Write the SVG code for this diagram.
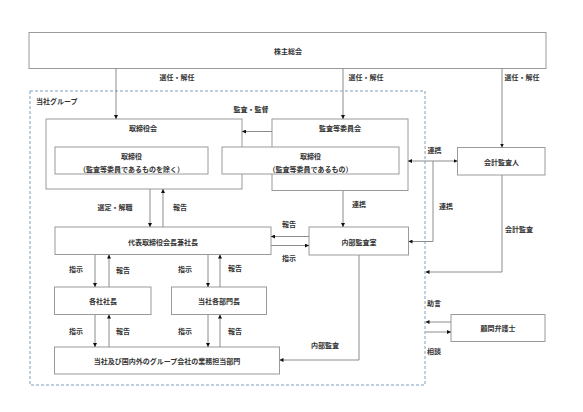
<svg xmlns="http://www.w3.org/2000/svg" width="583" height="412" viewBox="0 0 583 412">
<defs>
<style>
.bx{fill:#fff;stroke:#9a9a9a;stroke-width:1}
.ln{fill:none;stroke:#8c8c8c;stroke-width:1}
.t{font-family:"Noto Sans CJK JP","Noto Sans CJK SC",sans-serif;font-size:7px;font-weight:bold;fill:#333;text-anchor:middle;dominant-baseline:central}
.ts{text-anchor:start}
.grp{fill:none;stroke:#7f9fbf;stroke-width:1;stroke-dasharray:3 2}
</style>
<marker id="ah" viewBox="0 0 6 6" refX="6" refY="3" markerWidth="4" markerHeight="4" markerUnits="userSpaceOnUse" orient="auto">
<path d="M0,0 L6,3 L0,6 Z" fill="#111"/>
</marker>
</defs>
<rect width="583" height="412" fill="#fff"/>

<rect class="grp" x="30" y="91" width="395" height="294"/>
<text class="t ts" x="36" y="101">当社グループ</text>

<g id="shareholders">
<rect class="bx" x="29" y="32.5" width="517" height="36"/>
<text class="t" x="288" y="51">株主総会</text>
</g>

<g id="board">
<rect class="bx" x="46" y="119" width="196" height="70"/>
<text class="t" x="143" y="128">取締役会</text>
</g>
<g id="directors">
<rect class="bx" x="55" y="147" width="153" height="27"/>
<text class="t" x="131.5" y="156">取締役</text>
<text class="t" x="131.5" y="168.5">（監査等委員であるものを除く）</text>
</g>
<g id="audit-committee">
<rect class="bx" x="272" y="119" width="136" height="71.5"/>
<text class="t" x="340" y="128">監査等委員会</text>
</g>
<g id="audit-directors">
<rect class="bx" x="222" y="147" width="177" height="27"/>
<text class="t" x="310.5" y="156">取締役</text>
<text class="t" x="310.5" y="168.5">（監査等委員であるもの）</text>
</g>
<g id="accounting-auditor">
<rect class="bx" x="457.5" y="147.5" width="87.5" height="27.5"/>
<text class="t" x="501.5" y="161.5">会計監査人</text>
</g>
<g id="president">
<rect class="bx" x="55" y="227" width="216" height="27.5"/>
<text class="t" x="163" y="241.5">代表取締役会長兼社長</text>
</g>
<g id="internal-audit">
<rect class="bx" x="309" y="227" width="99.5" height="28"/>
<text class="t" x="359" y="241.5">内部監査室</text>
</g>
<g id="company-presidents">
<rect class="bx" x="54.5" y="287" width="96.5" height="27.5"/>
<text class="t" x="103" y="301">各社社長</text>
</g>
<g id="department-heads">
<rect class="bx" x="171.5" y="287" width="95" height="27.5"/>
<text class="t" x="219" y="301">当社各部門長</text>
</g>
<g id="business-divisions">
<rect class="bx" x="54.5" y="347" width="225" height="27"/>
<text class="t" x="167" y="360.5">当社及び国内外のグループ会社の業務担当部門</text>
</g>
<g id="legal-advisor">
<rect class="bx" x="451" y="314.5" width="94" height="27"/>
<text class="t" x="498" y="328">顧問弁護士</text>
</g>

<g id="connectors">
<line class="ln" x1="116" y1="68.5" x2="116" y2="119" marker-end="url(#ah)"/>
<line class="ln" x1="343" y1="68.5" x2="343" y2="119" marker-end="url(#ah)"/>
<line class="ln" x1="502" y1="68.5" x2="502" y2="147.5" marker-end="url(#ah)"/>
<line class="ln" x1="272" y1="131.5" x2="242" y2="131.5" marker-end="url(#ah)"/>
<line class="ln" x1="433" y1="161" x2="408" y2="161" marker-end="url(#ah)"/>
<line class="ln" x1="433" y1="161" x2="457.5" y2="161" marker-end="url(#ah)"/>
<polyline class="ln" points="433,161 433,241.5 408.5,241.5" marker-end="url(#ah)"/>
<polyline class="ln" points="502,175 502,272 425.5,272" marker-end="url(#ah)"/>
<line class="ln" x1="150" y1="189" x2="150" y2="227" marker-end="url(#ah)"/>
<line class="ln" x1="163" y1="227" x2="163" y2="189" marker-end="url(#ah)"/>
<line class="ln" x1="343" y1="190.5" x2="343" y2="227" marker-end="url(#ah)"/>
<line class="ln" x1="309" y1="236.5" x2="271" y2="236.5" marker-end="url(#ah)"/>
<line class="ln" x1="271" y1="245.5" x2="309" y2="245.5" marker-end="url(#ah)"/>
<line class="ln" x1="95" y1="254.5" x2="95" y2="287" marker-end="url(#ah)"/>
<line class="ln" x1="109" y1="287" x2="109" y2="254.5" marker-end="url(#ah)"/>
<line class="ln" x1="208" y1="254.5" x2="208" y2="287" marker-end="url(#ah)"/>
<line class="ln" x1="220" y1="287" x2="220" y2="254.5" marker-end="url(#ah)"/>
<line class="ln" x1="95" y1="314.5" x2="95" y2="347" marker-end="url(#ah)"/>
<line class="ln" x1="109" y1="347" x2="109" y2="314.5" marker-end="url(#ah)"/>
<line class="ln" x1="208" y1="314.5" x2="208" y2="347" marker-end="url(#ah)"/>
<line class="ln" x1="220" y1="347" x2="220" y2="314.5" marker-end="url(#ah)"/>
<polyline class="ln" points="359,255 359,360 279.5,360" marker-end="url(#ah)"/>
<line class="ln" x1="451" y1="322" x2="425.5" y2="322" marker-end="url(#ah)"/>
<line class="ln" x1="425.5" y1="332" x2="451" y2="332" marker-end="url(#ah)"/>
</g>

<g id="labels">
<text class="t" x="177" y="77">選任・解任</text>
<text class="t" x="366" y="77">選任・解任</text>
<text class="t" x="522" y="77">選任・解任</text>
<text class="t" x="251" y="109">監査・監督</text>
<text class="t" x="434.5" y="150">連携</text>
<text class="t" x="446" y="206">連携</text>
<text class="t" x="519" y="229">会計監査</text>
<text class="t" x="115" y="207">選定・解職</text>
<text class="t" x="180" y="207">報告</text>
<text class="t" x="359" y="204">連携</text>
<text class="t" x="289" y="224">報告</text>
<text class="t" x="289" y="258">指示</text>
<text class="t" x="76" y="269">指示</text>
<text class="t" x="123" y="270">報告</text>
<text class="t" x="185" y="269">指示</text>
<text class="t" x="235" y="268">報告</text>
<text class="t" x="76" y="331">指示</text>
<text class="t" x="123" y="331">報告</text>
<text class="t" x="185" y="331">指示</text>
<text class="t" x="235" y="331">報告</text>
<text class="t" x="325" y="345">内部監査</text>
<text class="t" x="434" y="303">助言</text>
<text class="t" x="434" y="351">相談</text>
</g>
</svg>
